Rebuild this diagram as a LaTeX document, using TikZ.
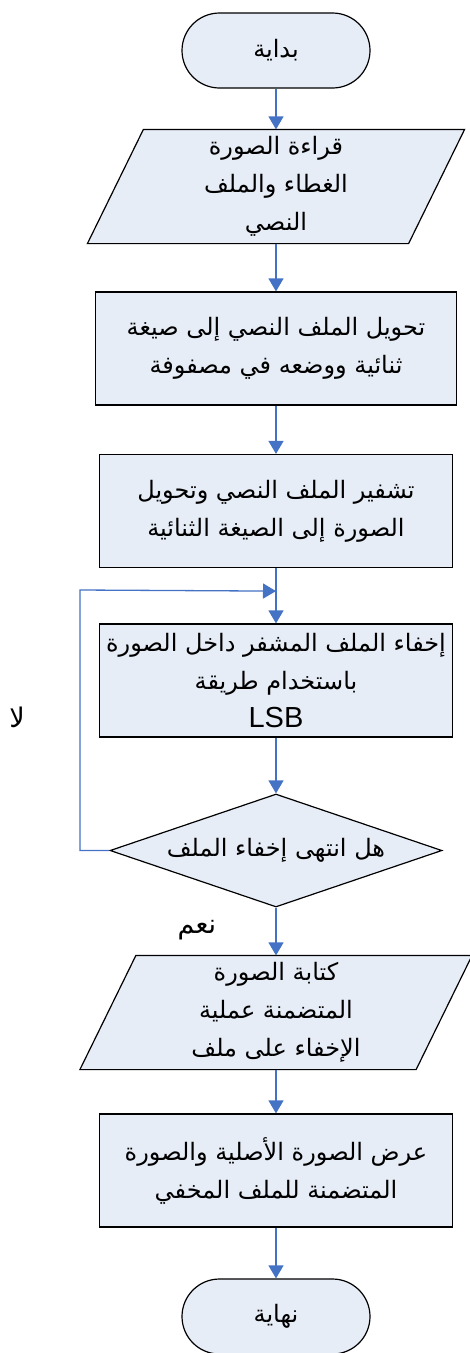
\documentclass[tikz,border=0pt]{standalone}
\usepackage{fontspec}
\setmainfont{Liberation Sans}
\newfontfamily\arabicfont[Script=Arabic]{DejaVu Sans}
\newfontfamily\latinfont{Liberation Sans}
\TeXXeTstate=1
\usetikzlibrary{shapes.geometric, positioning, arrows.meta, backgrounds}

\newcommand{\arline}[1]{\beginR#1\endR}

\definecolor{flowblue}{RGB}{68,114,196}
\definecolor{boxfill}{RGB}{231,237,247}

\tikzset{
  base/.style={draw=black, line width=1.2pt, fill=boxfill, align=center, text=black,
    font=\arabicfont\fontsize{24}{38}\selectfont},
  terminal/.style={base, rounded corners=37.5pt, minimum width=188pt, minimum height=75pt},
  procbox/.style={base, rectangle, minimum width=353pt, minimum height=113pt, inner sep=0pt},
  iobox/.style={base, draw=none, fill=none, minimum height=113pt, inner sep=0pt},
  ioshape/.style={draw=black, line width=1.2pt, fill=boxfill},
  decision/.style={base, diamond, aspect=2.94, inner sep=0pt, minimum width=332pt, minimum height=113pt},
  flow/.style={color=flowblue, line width=1.3pt, -{Triangle[width=15pt,length=13pt]}},
  answer/.style={font=\arabicfont\fontsize{27}{30}\selectfont}
}

\begin{document}
\begin{tikzpicture}[node distance=160pt, on grid]
    \useasboundingbox (0,0) rectangle (469pt,-1353pt);

    \node[terminal] (start) at (276pt,-50.5pt) {\arline{بداية}};
    \node[iobox, minimum width=320pt] (read) [below=136pt of start]
        {\arline{قراءة الصورة}\\ \arline{الغطاء والملف}\\ \arline{النصي}};
    \node[procbox, minimum width=361pt] (conv) [below=162pt of read]
        {\arline{تحويل الملف النصي إلى صيغة}\\ \arline{ثنائية ووضعه في مصفوفة}};
    \node[procbox] (enc) [below=162.5pt of conv]
        {\arline{تشفير الملف النصي وتحويل}\\ \arline{الصورة إلى الصيغة الثنائية}};
    \node[procbox] (hide) [below=169.5pt of enc]
        {\arline{إخفاء الملف المشفر داخل الصورة}\\ \arline{باستخدام طريقة}\\ {\latinfont\fontsize{29}{38}\selectfont LSB}};
    \node[decision] (check) [below=170pt of hide] {\arline{هل انتهى إخفاء الملف}};
    \node[iobox, minimum width=335pt] (write) [below=162pt of check]
        {\arline{كتابة الصورة}\\ \arline{المتضمنة عملية}\\ \arline{الإخفاء على ملف}};
    \node[procbox] (show) [below=158pt of write]
        {\arline{عرض الصورة الأصلية والصورة}\\ \arline{المتضمنة للملف المخفي}};
    \node[terminal] (stop) [below=146pt of show] {\arline{نهاية}};

    % parallelograms behind the input/output text
    \begin{scope}[on background layer]
        \foreach \n in {read, write}
            \draw[ioshape] ([xshift=-28pt]\n.south west) -- ([xshift=-28pt]\n.south east)
                -- ([xshift=28pt]\n.north east) -- ([xshift=28pt]\n.north west) -- cycle;
    \end{scope}

    \coordinate (join) at ([yshift=-23pt]enc.south);
    \coordinate (back) at (80pt,-590pt);

    \node[answer] (no) at (17pt,-717pt) {\arline{لا}};
    \node[answer] (yes) at (197pt,-930pt) {\arline{نعم}};

    \path[flow]
    (start) edge (read)
    (read) edge (conv)
    (conv) edge (enc)
    (enc) edge (hide)
    (hide) edge (check)
    (check) edge (write)
    (write) edge (show)
    (show) edge (stop);
    \draw[flow] (check.west) -| (back) -- (join);
\end{tikzpicture}
\end{document}
